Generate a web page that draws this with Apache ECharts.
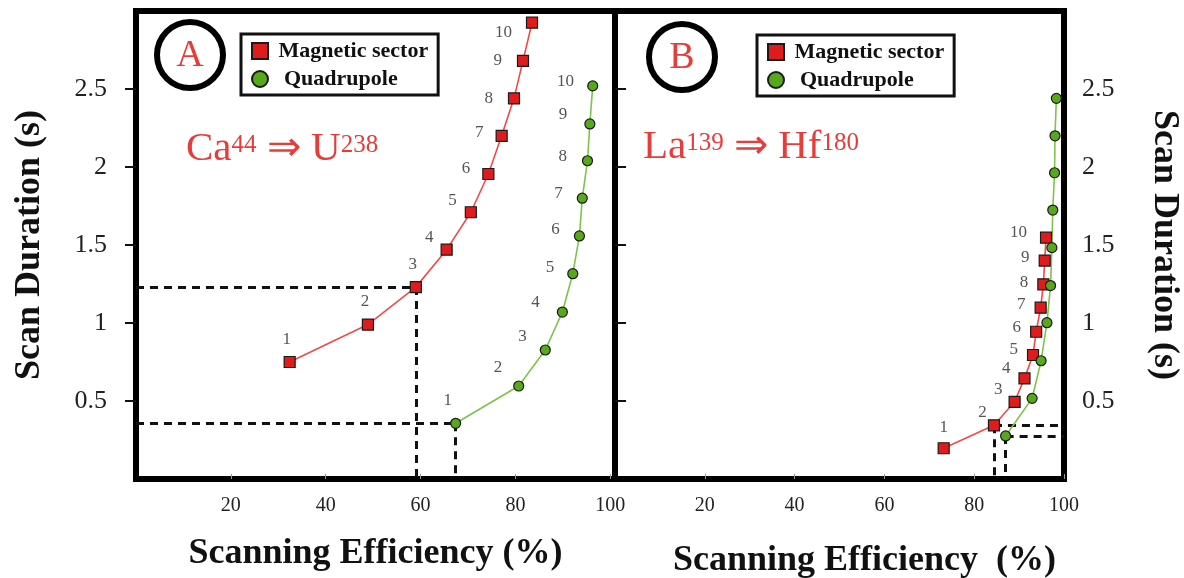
<!DOCTYPE html>
<html><head><meta charset="utf-8">
<script src="https://cdn.jsdelivr.net/npm/echarts@6/dist/echarts.min.js"></script>
<style>html,body{margin:0;padding:0;background:#fff}#c{width:1184px;height:578px}</style>
</head><body><div id="c"></div>
<script>
// ---------- data ----------
const seriesNames = ['Magnetic sector', 'Quadrupole'];
const pointLabels = ['1','2','3','4','5','6','7','8','9','10'];
const xTickLabels = [20, 40, 60, 80, 100];
const yTickLabels = [0.5, 1, 1.5, 2, 2.5];
const panelLetters = ['A', 'B'];
const yAxisName = 'Scan Duration (s)';
const xAxisNameA = 'Scanning Efficiency (%)';
const xAxisNameB = 'Scanning Efficiency  (%)';

// Panel A: Ca44 => U238
const magA_x = [32.4, 48.9, 59.0, 65.5, 70.6, 74.3, 77.1, 79.7, 81.6, 83.5];
const magA_y = [0.75, 0.99, 1.23, 1.47, 1.71, 1.955, 2.20, 2.44, 2.68, 2.925];
const quadA_x = [67.4, 80.7, 86.3, 89.9, 92.1, 93.5, 94.1, 95.2, 95.7, 96.3];
const quadA_y = [0.357, 0.596, 0.827, 1.07, 1.316, 1.558, 1.80, 2.04, 2.276, 2.52];
// Panel B: La139 => Hf180
const magB_x = [73.2, 84.4, 89.0, 91.2, 93.1, 93.8, 94.8, 95.4, 95.7, 96.0];
const magB_y = [0.197, 0.344, 0.495, 0.645, 0.795, 0.944, 1.098, 1.248, 1.40, 1.547];
const quadB_x = [87.0, 92.9, 94.9, 96.2, 97.0, 97.3, 97.5, 97.9, 98.0, 98.3];
const quadB_y = [0.276, 0.517, 0.758, 1.002, 1.24, 1.483, 1.724, 1.963, 2.20, 2.44];
// index of the point each dashed guide is drawn from
const guideA_mag = 2, guideA_quad = 0, guideB_mag = 1, guideB_quad = 0;

// ---------- styles ----------
const SERIF = '"Liberation Serif","Times New Roman",serif';
const RED = '#e01b1b', GREEN = '#58a81c', RED_LINE = '#f04a4a', GREEN_LINE = '#7cc44c';
const TXT_RED = '#e63c3a';

// label placement rules (style only): [position, distance, dy] per point index
const labelRules = {
  magA:  [['top',8,0],['top',8,0],['top',8,0],['left',7,-12],['left',8,-12],['left',12,-5],['left',12,-3],['left',15,0],['left',15,0],['left',14,10]],
  quadA: [['top',9,0],['left',11,-18],['left',13,-13],['left',17,-10],['left',13,-6],['left',14,-6],['left',14,-5],['left',15,-4],['left',17,-9],['left',13,-4]],
  magB:  [['top',6,0],['left',1,-13],['left',6,-12],['left',8,-10],['left',9,-5],['left',9,-4],['left',9,-3],['left',9,-2],['left',9,-3],['left',13,-5]]
};
function labelFor(rule, i) {
  if (rule === 'none') return { show: false };
  const r = labelRules[rule][i];
  const dx = (r[0] === 'top') ? (rule === 'quadA' ? -8 : (rule === 'magA' ? -3 : 0)) : 0;
  return { show: true, formatter: pointLabels[i], fontFamily: SERIF, fontSize: 17, color: '#555',
           position: r[0], distance: r[1], offset: [dx, r[2]] };
}
function pts(xs, ys, rule) {
  return xs.map((x, i) => ({ value: [x, ys[i]], label: labelFor(rule, i) }));
}
const dashStyle = { type: [8, 6], width: 3, color: '#111' };
function guideToLeft(xs, ys, i) {
  return [[{ coord: [0, ys[i]] }, { coord: [xs[i], ys[i]] }],
          [{ coord: [xs[i], ys[i]] }, { coord: [xs[i], 0] }]];
}
function guideToRight(xs, ys, i, xmax) {
  return [[{ coord: [xs[i], ys[i]] }, { coord: [xmax, ys[i]] }],
          [{ coord: [xs[i], ys[i]] }, { coord: [xs[i], 0] }]];
}
function mk(name, gi, data, guides, isMag) {
  return {
    name: name, type: 'line', xAxisIndex: gi, yAxisIndex: gi, data: data,
    symbol: isMag ? 'rect' : 'circle', symbolSize: isMag ? 11 : 10,
    lineStyle: { color: isMag ? RED_LINE : GREEN_LINE, width: 1.6 },
    itemStyle: { color: isMag ? RED : GREEN, borderColor: '#1a1a1a', borderWidth: 1.2 },
    z: 3,
    markLine: {
      silent: true, symbol: ['none', 'none'], z: 1, animation: false,
      label: { show: false }, lineStyle: dashStyle, emphasis: { disabled: true },
      data: guides
    }
  };
}

const XMAX_A = 101, XMAX_B = 100;
const gridA = { left: 136, top: 11, width: 479, height: 468 };
const gridB = { left: 615, top: 11, width: 449, height: 468 };

function xAxis(gi, max, name, gap, shift) {
  return {
    type: 'value', gridIndex: gi, min: 0, max: max,
    axisLine: { show: false },
    axisTick: { show: true, inside: true, length: 5, customValues: xTickLabels, lineStyle: { color: '#999', width: 1 } },
    axisLabel: { customValues: xTickLabels, fontFamily: SERIF, fontSize: 20, color: '#222', margin: 17 },
    splitLine: { show: false },
    name: name, nameLocation: 'middle', nameGap: gap,
    nameTextStyle: { fontFamily: SERIF, fontSize: 36, fontWeight: 'bold', color: '#111', padding: [0, 0, 0, shift] }
  };
}
function yAxis(gi, pos, margin, gap, rot) {
  const a = {
    type: 'value', gridIndex: gi, min: 0, max: 3, position: pos,
    axisLine: { show: false },
    axisTick: { show: true, length: 11, customValues: yTickLabels, lineStyle: { color: '#111', width: 2 } },
    axisLabel: { customValues: yTickLabels, fontFamily: SERIF, fontSize: 26, color: '#222', margin: margin },
    splitLine: { show: false },
    name: yAxisName, nameLocation: 'middle', nameGap: gap,
    nameTextStyle: { fontFamily: SERIF, fontSize: 36, fontWeight: 'bold', color: '#111' }
  };
  if (rot !== undefined) a.nameRotate = rot;
  return a;
}
function legend(left, top) {
  return {
    left: left, top: top, orient: 'vertical', selectedMode: false,
    data: [{ name: seriesNames[0], icon: 'rect' }, { name: seriesNames[1], icon: 'circle' }],
    formatter: n => n === seriesNames[1] ? '  ' + n : ' ' + n,
    itemWidth: 16, itemHeight: 16, itemGap: 6,
    padding: [6, 10, 5, 10],
    borderColor: '#111', borderWidth: 3, backgroundColor: '#fff',
    textStyle: { fontFamily: SERIF, fontSize: 22, fontWeight: 'bold', color: '#111' }
  };
}
function circleLabel(cx, cy, letter) {
  return [
    { type: 'circle', z: 10, shape: { cx: cx, cy: cy, r: 33 }, style: { fill: '#fff', stroke: '#000', lineWidth: 6 } },
    { type: 'text', z: 11, x: cx, y: cy + 1, style: { text: letter, fill: TXT_RED, font: '38px ' + SERIF, align: 'center', verticalAlign: 'middle' } }
  ];
}
const rich = {
  m: { fontSize: 41, lineHeight: 44, fontFamily: SERIF, fill: TXT_RED, verticalAlign: 'bottom' },
  s: { fontSize: 25, fontFamily: SERIF, fill: TXT_RED, verticalAlign: 'top', padding: [7, 0, 0, 0] }
};
function formula(x, y, txt) {
  return { type: 'text', z: 10, x: x, y: y, style: { text: txt, rich: rich, fill: TXT_RED, font: '41px ' + SERIF, align: 'left', verticalAlign: 'top' } };
}

const gridCommon = { show: true, borderColor: '#000', borderWidth: 6, backgroundColor: 'transparent', outerBoundsMode: 'none', containLabel: false };
const option = {
  animation: false,
  backgroundColor: '#fff',
  grid: [Object.assign({}, gridCommon, gridA), Object.assign({}, gridCommon, gridB)],
  xAxis: [xAxis(0, XMAX_A, xAxisNameA, 57, 0), xAxis(1, XMAX_B, xAxisNameB, 64, 50)],
  yAxis: [yAxis(0, 'left', 29, 88), yAxis(1, 'right', 18, 82, -90)],
  legend: [legend(241, 34), legend(757, 35)],
  series: [
    mk(seriesNames[0], 0, pts(magA_x, magA_y, 'magA'), guideToLeft(magA_x, magA_y, guideA_mag), true),
    mk(seriesNames[1], 0, pts(quadA_x, quadA_y, 'quadA'), guideToLeft(quadA_x, quadA_y, guideA_quad), false),
    mk(seriesNames[0], 1, pts(magB_x, magB_y, 'magB'), guideToRight(magB_x, magB_y, guideB_mag, XMAX_B), true),
    mk(seriesNames[1], 1, pts(quadB_x, quadB_y, 'none'), guideToRight(quadB_x, quadB_y, guideB_quad, XMAX_B), false)
  ],
  graphic: [].concat(
    circleLabel(190, 55, panelLetters[0]),
    circleLabel(682, 57, panelLetters[1]),
    [formula(186, 126, '{m|Ca}{s|44}{m| \u21D2 U}{s|238}'),
     formula(643, 124, '{m|La}{s|139}{m| \u21D2 Hf}{s|180}')]
  )
};
const chart = echarts.init(document.getElementById('c'), null, { renderer: 'canvas' });
chart.setOption(option);
</script>
</body></html>
